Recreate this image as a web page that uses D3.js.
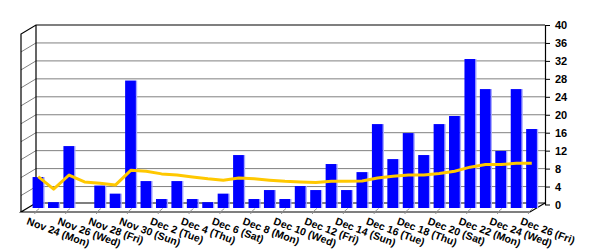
<!DOCTYPE html>
<html><head><meta charset="utf-8">
<script src="https://cdn.jsdelivr.net/npm/d3@7"></script>
<style>
body{margin:0;background:#fff;}
svg{display:block;}
text{font-family:"Liberation Sans",Arial,sans-serif;font-weight:bold;font-size:11px;fill:#000;}
</style></head>
<body>
<svg id="c" width="600" height="250"></svg>
<script>
const categories = ["Nov 24 (Mon)","Nov 25 (Tue)","Nov 26 (Wed)","Nov 27 (Thu)","Nov 28 (Fri)","Nov 29 (Sat)","Nov 30 (Sun)",
"Dec 1 (Mon)","Dec 2 (Tue)","Dec 3 (Wed)","Dec 4 (Thu)","Dec 5 (Fri)","Dec 6 (Sat)","Dec 7 (Sun)","Dec 8 (Mon)",
"Dec 9 (Tue)","Dec 10 (Wed)","Dec 11 (Thu)","Dec 12 (Fri)","Dec 13 (Sat)","Dec 14 (Sun)","Dec 15 (Mon)","Dec 16 (Tue)",
"Dec 17 (Wed)","Dec 18 (Thu)","Dec 19 (Fri)","Dec 20 (Sat)","Dec 21 (Sun)","Dec 22 (Mon)","Dec 23 (Tue)","Dec 24 (Wed)",
"Dec 25 (Thu)","Dec 26 (Fri)"];
const barValues = [6.9,1.3,13.8,0,5.0,3.2,28.4,6.0,2.0,6.0,2.0,1.3,3.2,11.8,2.0,4.0,2.0,4.9,4.0,9.8,4.0,8.0,18.7,10.9,16.7,11.8,18.7,20.5,33.2,26.5,12.7,26.5,17.6];
const lineValues = [7.0,4.2,7.35,5.8,5.5,5.1,8.4,8.2,7.6,7.35,6.9,6.5,6.2,6.7,6.5,6.2,5.95,5.8,5.7,5.95,5.95,6.0,6.7,7.05,7.35,7.35,7.7,8.2,9.1,9.7,9.7,9.95,9.95];
const yTicks = [0,4,8,12,16,20,24,28,32,36,40];

const svg = d3.select("#c");
const left = 36, right = 545;
const depthX = -15, depthY = 9;   // 3D depth offset (back -> front)
const barDX = -5.5, barDY = 3.5;  // bar plane offset from back wall

const x = d3.scaleBand().domain(categories).range([left, right]).paddingInner(0.27).paddingOuter(0.135);
const y = d3.scaleLinear().domain([0, 40]).range([204.5, 25]);
const floorBack = y(0) - 1.5;

// grid on back wall
svg.append("g").selectAll("line").data(yTicks.filter(t => t > 0 && t < 40)).join("line")
  .attr("x1", left).attr("x2", right).attr("y1", d => y(d)).attr("y2", d => y(d))
  .attr("stroke", "#808080").attr("stroke-width", 1);
// grid on left wall
svg.append("g").selectAll("line").data(yTicks.filter(t => t > 0 && t < 40)).join("line")
  .attr("x1", left + depthX).attr("y1", d => y(d) + depthY).attr("x2", left).attr("y2", d => y(d))
  .attr("stroke", "#808080").attr("stroke-width", 1);

// wall outlines
const frame = svg.append("g").attr("stroke", "#000").attr("stroke-width", 1.2).attr("fill", "none");
frame.append("path").attr("d", d3.line()([[left + depthX, floorBack + depthY],[left + depthX, y(40) + depthY],[left, y(40)],[right, y(40)]]));
frame.append("path").attr("d", d3.line()([[left, y(40)],[left, floorBack],[right, floorBack]]));
frame.append("path").attr("d", d3.line()([[left, floorBack],[left + depthX, floorBack + depthY],[right + depthX, floorBack + depthY],[right, floorBack]]));

// x ticks (every other category)
svg.append("g").selectAll("path").data(categories.filter((c, i) => i % 2 === 0)).join("path")
  .attr("d", d => {
    const cx = x(d) + x.bandwidth() / 2;
    return d3.line()([[cx + barDX + 1, floorBack + 5.5],[cx + barDX - 3, floorBack + 9],[cx + barDX - 3.5, floorBack + 11]]);
  })
  .attr("stroke", "#909090").attr("fill", "none").attr("stroke-width", 1);

// bars
const bars = svg.append("g");
bars.selectAll("rect.side").data(barValues).join("rect").attr("class", "side")
  .attr("x", (d, i) => x(categories[i]) + barDX + x.bandwidth() - 0.5)
  .attr("y", d => y(d) + barDY)
  .attr("width", 1.3)
  .attr("height", d => y(0) - y(d))
  .attr("fill", "#a8a8ff");
bars.selectAll("rect.front").data(barValues).join("rect").attr("class", "front")
  .attr("x", (d, i) => x(categories[i]) + barDX)
  .attr("y", d => y(d) + barDY)
  .attr("width", x.bandwidth() - 0.5)
  .attr("height", d => y(0) - y(d))
  .attr("fill", "#0000ff");

// line
svg.append("path").datum(lineValues)
  .attr("d", d3.line().x((d, i) => x(categories[i]) + x.bandwidth() / 2 + barDX).y(d => y(d) + barDY))
  .attr("fill", "none").attr("stroke", "#ffc800").attr("stroke-width", 3).attr("stroke-linejoin", "round");

// right axis
const axis = svg.append("g").attr("transform", `translate(${right},0)`)
  .call(d3.axisRight(y).tickValues(yTicks).tickSize(5).tickSizeOuter(0).tickPadding(5));
axis.select(".domain").attr("stroke", "#000").attr("stroke-width", 1.2);
axis.selectAll(".tick line").attr("stroke", "#000");
axis.selectAll("text").style("font-family", "Liberation Sans, Arial, sans-serif").style("font-size", "11px").style("font-weight", "bold");

// x labels
svg.append("g").selectAll("text").data(categories.filter((c, i) => i % 2 === 0)).join("text")
  .attr("transform", d => `translate(${x(d) + x.bandwidth() / 2 + barDX - 9.5},${floorBack + 14}) rotate(20.5)`)
  .attr("dy", "0.72em")
  .style("font-size", "10.5px")
  .text(d => d);
</script>
</body></html>
